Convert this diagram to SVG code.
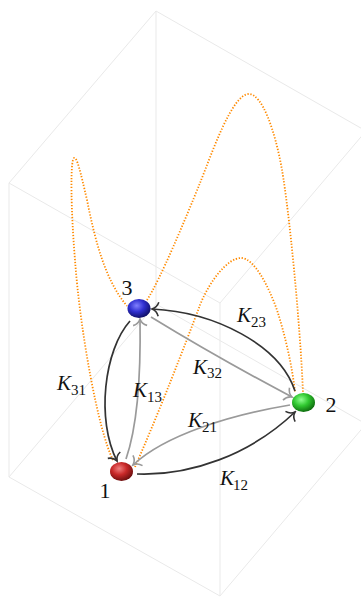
<svg xmlns="http://www.w3.org/2000/svg" width="361" height="597" viewBox="0 0 361 597">
<style>
.cube{fill:none;stroke:#e9e9e9;stroke-width:1}
.orange{fill:none;stroke:#ff8a00;stroke-width:1.8;stroke-dasharray:1.3 1.7}
.blk{fill:none;stroke:#333;stroke-width:1.7}
.gry{fill:none;stroke:#9a9a9a;stroke-width:1.7}
.lbl{font-family:"Liberation Serif","DejaVu Serif",serif;fill:#111}
.k{font-style:italic;font-size:21px}
.sub{font-size:15px}
.num{font-size:22px;text-anchor:middle}
</style>
<defs>
<marker id="ab" viewBox="-9 -8 11 16" markerWidth="11" markerHeight="16" refX="0" refY="0" orient="auto" markerUnits="userSpaceOnUse">
<path d="M-6.5,-7 C-5.5,-3.5 -2.5,-0.8 0,0 C-2.5,0.8 -5.5,3.5 -6.5,7" fill="none" stroke="#333" stroke-width="1.6"/>
</marker>
<marker id="ag" viewBox="-9 -8 11 16" markerWidth="11" markerHeight="16" refX="0" refY="0" orient="auto" markerUnits="userSpaceOnUse">
<path d="M-6.5,-7 C-5.5,-3.5 -2.5,-0.8 0,0 C-2.5,0.8 -5.5,3.5 -6.5,7" fill="none" stroke="#9a9a9a" stroke-width="1.6"/>
</marker>
<radialGradient id="gb" cx="0.4" cy="0.35" r="0.65">
<stop offset="0" stop-color="#8080ff"/><stop offset="0.5" stop-color="#3030d0"/><stop offset="1" stop-color="#10106a"/>
</radialGradient>
<radialGradient id="gr" cx="0.4" cy="0.35" r="0.65">
<stop offset="0" stop-color="#f08080"/><stop offset="0.5" stop-color="#c82828"/><stop offset="1" stop-color="#701010"/>
</radialGradient>
<radialGradient id="gg" cx="0.4" cy="0.35" r="0.65">
<stop offset="0" stop-color="#90ff90"/><stop offset="0.5" stop-color="#30c830"/><stop offset="1" stop-color="#107010"/>
</radialGradient>
</defs>
<g id="cube" class="cube">
<path d="M156,11 L9,183 L220,303 L366,131 Z"/>
<path d="M156,304 L9,477 L220,596 L366,424 Z"/>
<path d="M156,11 V304 M9,183 V477 M220,303 V596 M366,131 V424"/>
</g>
<g id="orange-curves">
<path class="orange" d="M113,460 C98,430 80,330 75,260 C71,212 70,160 74,158 C77,157 80,170 87,200 C95,240 105,280 127,306"/>
<path class="orange" d="M147,300 C160,280 185,220 200,183 C212,153 232,94 249,94 C262,94 275,130 282,170 C289,210 300,320 303,393"/>
<path class="orange" d="M135,467 C160,410 185,345 200,305 C210,280 228,258 241,258 C254,258 268,285 277,310 C285,335 292,365 295,392"/>
</g>
<g id="connectors">
<path id="e31" class="blk" d="M130,321 C104,350 96,420 117,461" marker-end="url(#ab)"/>
<path id="e12" class="blk" d="M137,474 C190,476 250,455 295,412" marker-end="url(#ab)"/>
<path id="e23" class="blk" d="M295,391 C280,345 215,312 152,309" marker-end="url(#ab)"/>
<path id="e13" class="gry" d="M126,459 C136,430 141,380 140,319" marker-end="url(#ag)"/>
<path id="e32" class="gry" d="M151,317 Q218,358 292,397" marker-end="url(#ag)"/>
<path id="e21" class="gry" d="M290,405 C230,415 165,435 133,465" marker-end="url(#ag)"/>
</g>
<g id="edge-labels" class="lbl">
<text class="k" x="237" y="322">K</text><text class="sub" x="251" y="327">23</text>
<text class="k" x="193" y="374">K</text><text class="sub" x="207" y="378">32</text>
<text class="k" x="57" y="390">K</text><text class="sub" x="71" y="395">31</text>
<text class="k" x="133" y="397">K</text><text class="sub" x="147" y="402">13</text>
<text class="k" x="188" y="427">K</text><text class="sub" x="202" y="432">21</text>
<text class="k" x="220" y="485">K</text><text class="sub" x="233" y="490">12</text>
</g>
<g id="node3">
<ellipse cx="139" cy="308.5" rx="11.5" ry="9.5" fill="url(#gb)"/>
<text class="lbl num" x="127" y="295">3</text>
</g>
<g id="node2">
<ellipse cx="303.5" cy="402.5" rx="11.5" ry="9.5" fill="url(#gg)"/>
<text class="lbl num" x="331" y="412">2</text>
</g>
<g id="node1">
<ellipse cx="121.5" cy="471.5" rx="11.5" ry="9.5" fill="url(#gr)"/>
<text class="lbl num" x="105" y="498">1</text>
</g>
</svg>
